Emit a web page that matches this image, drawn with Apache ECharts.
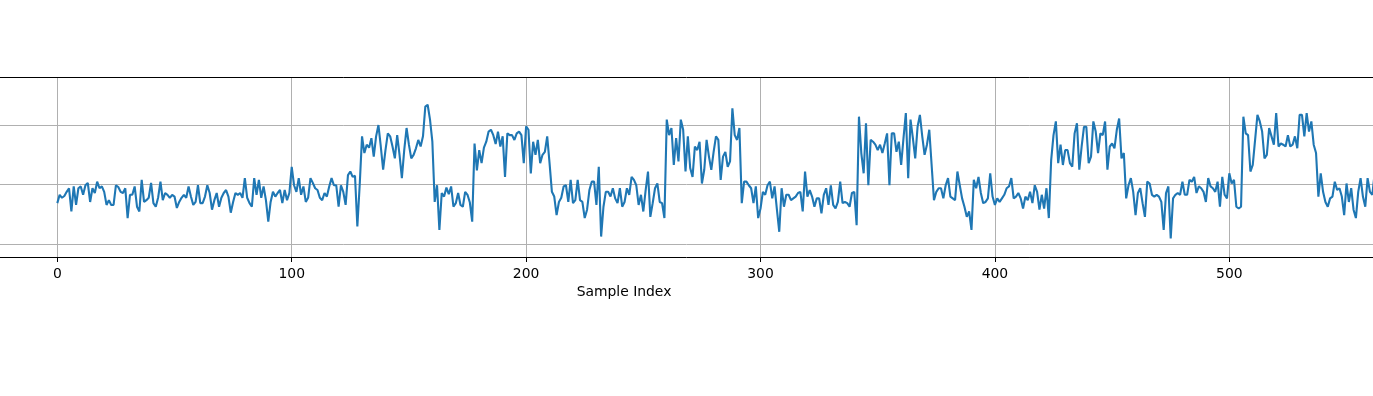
<!DOCTYPE html>
<html>
<head>
<meta charset="utf-8">
<script src="https://cdn.jsdelivr.net/npm/echarts@6.0.0/dist/echarts.min.js"></script>
<style>
  html, body { margin: 0; padding: 0; background: #fff; }
  #chart { width: 1373px; height: 396px; }
</style>
</head>
<body>
<div id="chart"></div>
<script>
// Signal values, split by regime (sample index = position in the concatenated list)
const low1 = [0.69,0.83,0.78,0.81,0.88,0.94,0.55,0.97,0.66,0.94,0.97,0.83,0.99,1.03,0.71,0.94,0.86,1.05,0.94,0.97,0.88,0.66,0.74,0.66,0.66,0.99,0.96,0.88,
  0.86,0.94,0.44,0.83,0.83,0.97,0.63,0.55,1.08,0.71,0.74,0.78,1.03,0.69,0.63,0.78,1.05,0.74,0.86,0.83,0.78,0.83,0.80,0.61,0.71,0.78,0.83,0.78,0.97,0.80,0.66,0.71,0.99,0.69,0.69,0.80,0.99,0.86,0.58,0.74,0.86,0.63,0.78,0.86,0.91,0.80,0.53,
  0.71,0.86,0.83,0.86,0.78,1.11,0.78,0.69,0.63,1.11,0.83,1.08,0.78,0.97,0.74,0.38,0.71,0.88,0.80,0.86,0.91,0.69,0.91,0.74,0.86,1.30,0.99,0.88,1.11,0.83,0.97,0.71,0.78,1.11,1.03,0.94,0.91,0.78,0.74,0.86,0.80,0.97,1.11,0.99,0.99,0.63,0.99,
  0.88,0.66,1.16,1.22,1.13,1.15,0.30,0.99];
const high1 = [1.81,1.53,1.67,1.62,1.78,1.47,1.81,2.00,1.64,1.25,1.58,1.86,1.81,1.64,1.44,1.83,1.50,1.11,1.58,1.95,1.67,1.44,1.50,1.61,1.75,1.64,1.81,2.31,2.34,2.09,1.72];
const low2 = [0.71,0.99,0.24,0.86,0.80,0.95,0.84,0.97,0.63,0.69,0.86,0.66,0.63,0.88,0.83,0.70,0.38];
const high2 = [1.69,1.24,1.58,1.36,1.62,1.72,1.89,1.92,1.83,1.68,1.89,1.64,1.81,1.13,1.86,1.83,1.83,1.75,1.86,1.89,1.83,1.36,1.98,1.92,1.19,1.72,1.50,1.75,1.36,1.50,1.55,1.81,1.36];
const low3 = [0.88,0.80,0.49,0.71,0.78,0.97,0.99,0.71,1.08,0.69,0.74,1.08,0.74,0.71,0.44,0.58,0.91,1.05,1.05,0.66,1.30,0.13,0.63,0.88,0.88,0.80,0.94,0.77,0.69,0.94,0.63,0.71,0.94,0.83,1.13,1.08,0.99,0.66,0.83,0.55,0.91,1.22,0.46,0.69,0.94,1.02,0.71,0.69,0.44];
const high3 = [2.09,1.83,1.95,1.33,1.78,1.39,2.09,1.92,1.22,1.81,1.28,1.13,1.64,1.58,1.72,1.02,1.25,1.75,1.47,1.25,1.55,1.81,1.75,1.08,1.47,1.55,1.30,1.39,2.28,1.83,1.75,1.95];
const low4 = [0.69,1.05,1.05,0.99,0.94,0.69,0.97,0.44,0.60,0.88,0.83,0.99,1.05,0.77,0.97,0.58,0.21,0.94,0.63,0.83,0.83,0.74,0.77,0.80,0.86,0.88,0.55,1.22,0.80,0.91,0.80,0.63,0.77,0.77,0.52,0.83,0.94,0.66,0.99,0.66,0.60,0.71,1.05,0.69,0.71,0.69,0.63,0.86,0.88,0.32];
const high4 = [2.14,1.53,1.19,2.03,0.99,1.75,1.72,1.67,1.58,1.67,1.53,1.69,1.86,0.99,1.86,1.86,1.55,1.72,1.33,1.78,2.20,1.11,2.09,1.78,1.44,1.97,2.17,1.81,1.50,1.67,1.92,1.33];
const low5 = [0.74,0.88,0.94,0.94,0.77,0.99,1.11,0.80,0.77,0.74,1.22,0.99,0.77,0.63,0.46,0.55,0.24,1.08,0.94,1.13,0.86,0.69,0.71,0.77,1.19,0.80,0.66,0.77,0.71,0.77,
  0.83,0.94,0.97,1.11,0.77,0.80,0.86,0.77,0.60,0.80,0.74,0.88,0.69,0.99,0.88,0.58,0.83,0.60,0.94,0.44];
const high5 = [1.41,1.83,2.06,1.36,1.67,1.33,1.58,1.58,1.36,1.30,1.86,2.03,1.25,1.64,1.97,1.97,1.36,1.47,2.06,1.89,1.53,1.86,1.83,2.06,1.25,1.64,1.69,1.61,1.92,2.11,1.44,1.53];
const low6 = [0.77,0.99,1.11,0.88,0.49,0.86,0.94,0.69,0.46,1.05,1.02,0.83,0.80,0.83,0.80,0.71,0.24,0.86,0.97,0.10,0.77,0.83,0.86,0.83,1.05,0.83,0.83,1.08,1.05,1.13,0.86,0.97,0.94,0.88,0.71,1.11,0.97,0.94,0.88,1.05,0.63,
  1.13,0.83,0.77,1.19,1.02,1.08,0.63,0.60,0.63];
const high6 = [2.14,1.86,1.83,1.22,1.33,1.75,2.17,2.06,1.89,1.44,1.50,1.95,1.81,1.67,2.20,1.64,1.69,1.67,1.64,1.83,1.64,1.67,1.81,1.61,2.17,2.17,1.81,2.20,1.89,2.06,1.67,1.53];
const low7 = [0.80,1.19,0.88,0.71,0.63,0.77,0.80,1.05,0.91,0.94,0.80,0.49,1.02,0.71,0.94,0.58,0.44,0.88,1.11,0.80,0.63,1.11,0.88,0.83,1.19,0.95];

const xAxisName = 'Sample Index';

const signal = [].concat(low1, high1, low2, high2, low3, high3, low4, high4, low5, high5, low6, high6, low7);
const seriesData = signal.map((v, i) => [i, v]);

const chart = echarts.init(document.getElementById('chart'), null, { renderer: 'canvas' });
chart.setOption({
  animation: false,
  backgroundColor: '#ffffff',
  grid: { left: 0, right: 0, top: 77, height: 180, containLabel: false },
  xAxis: {
    type: 'value',
    min: -24.45,
    max: 561.3,
    minInterval: 100,
    maxInterval: 100,
    axisLine: { show: true, onZero: false, lineStyle: { color: '#000', width: 1 } },
    axisTick: { show: true, length: 5, lineStyle: { color: '#000', width: 1 } },
    axisLabel: {
      show: true, margin: 10, color: '#000', fontSize: 13.9,
      fontFamily: 'DejaVu Sans', showMinLabel: false, showMaxLabel: false
    },
    splitLine: { show: true, showMinLine: false, showMaxLine: false, lineStyle: { color: '#b0b0b0', width: 1 } }
  },
  yAxis: {
    type: 'value',
    min: -0.213,
    max: 2.805,
    minInterval: 1,
    maxInterval: 1,
    axisLine: { show: false },
    axisTick: { show: false },
    axisLabel: { show: false },
    splitLine: { show: true, showMinLine: false, showMaxLine: false, lineStyle: { color: '#b0b0b0', width: 1 } }
  },
  series: [{
    type: 'line',
    data: seriesData,
    showSymbol: false,
    symbol: 'none',
    clip: true,
    lineStyle: { color: '#1f77b4', width: 2.1 },
    itemStyle: { color: '#1f77b4' }
  }],
  graphic: [
    {
      type: 'line', z: 100,
      shape: { x1: 0, y1: 77.5, x2: 1373, y2: 77.5 },
      style: { stroke: '#000', lineWidth: 1 }
    },
    {
      type: 'text', z: 100, x: 624, y: 292,
      style: {
        text: xAxisName, fill: '#000', fontSize: 13.9, fontFamily: 'DejaVu Sans',
        align: 'center', verticalAlign: 'middle'
      }
    }
  ]
});
</script>
</body>
</html>
